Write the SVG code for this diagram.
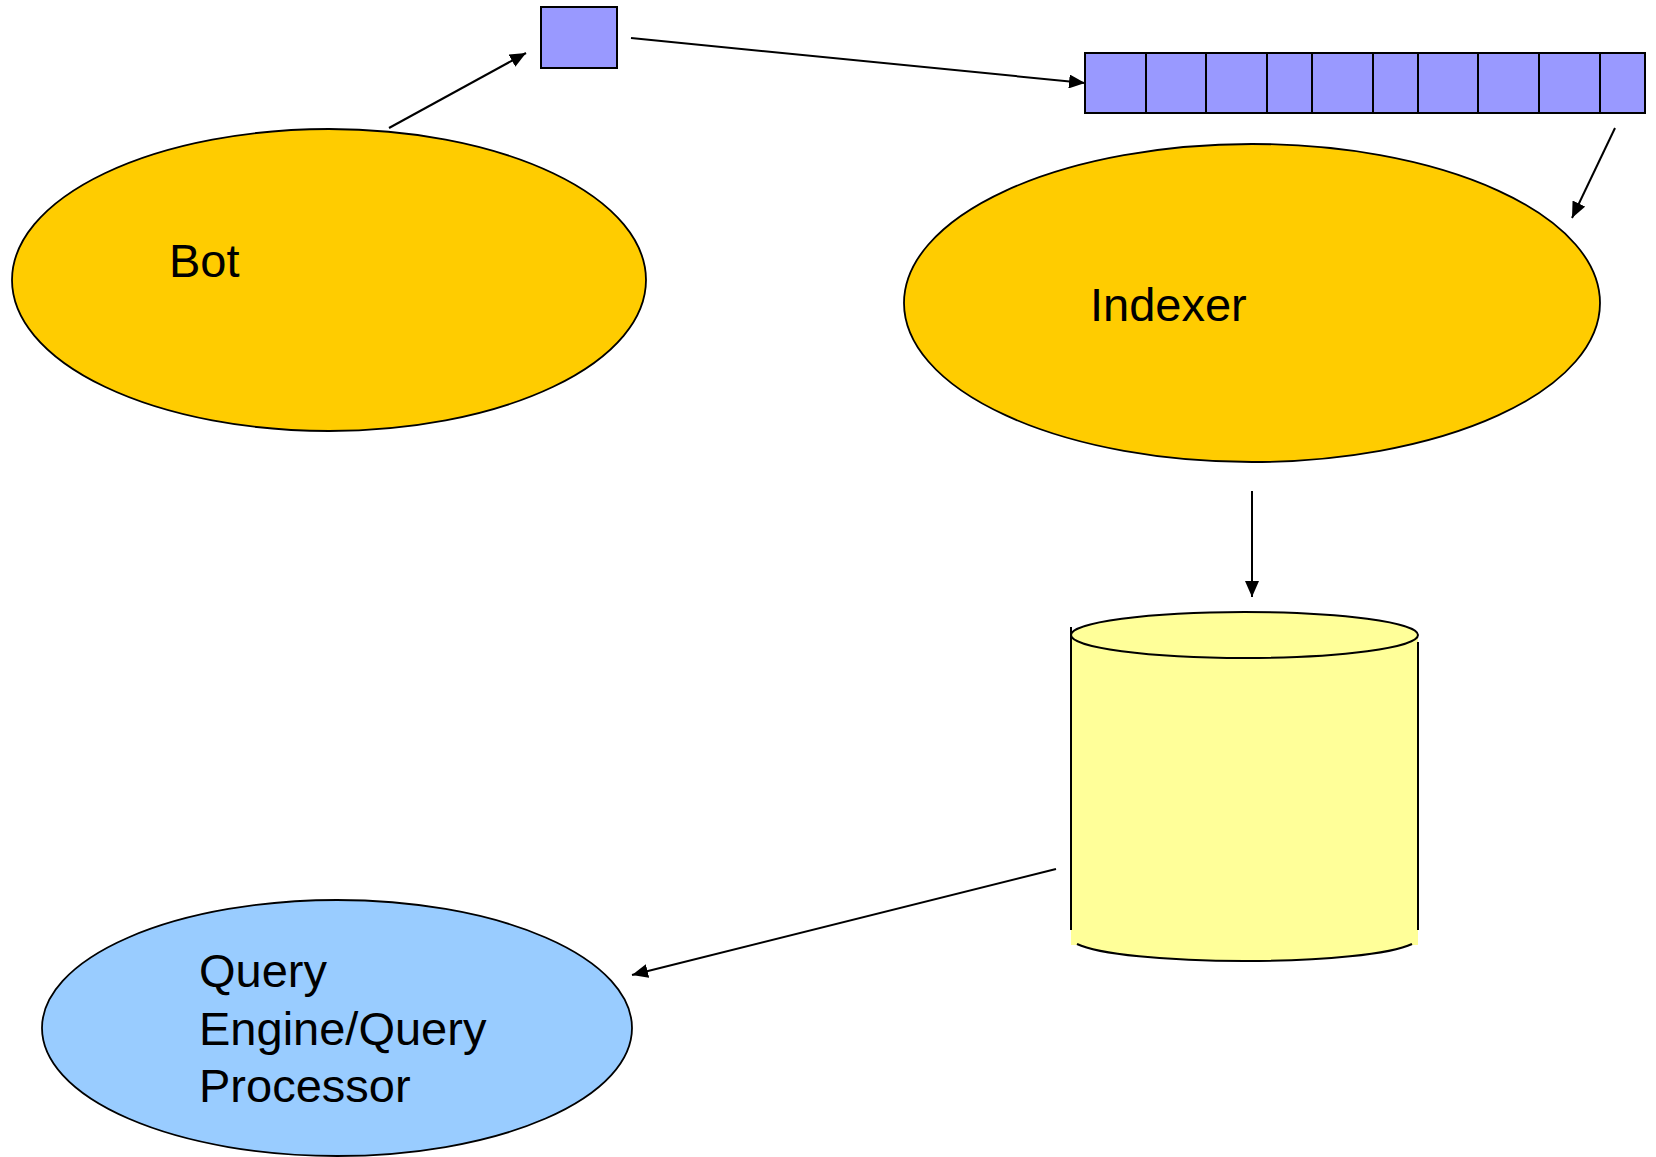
<svg xmlns="http://www.w3.org/2000/svg" width="1656" height="1157" viewBox="0 0 1656 1157">
<style>
.lbl{font-family:"Liberation Sans",Arial,sans-serif;font-size:47px;fill:#000}
.ell{stroke:#000;stroke-width:1.8}
.cell{fill:#9999FF;stroke:#000;stroke-width:2}
.conn{stroke:#000;stroke-width:2;fill:none;marker-end:url(#ah)}
</style>
<defs>
<marker id="ah" markerUnits="userSpaceOnUse" viewBox="0 0 16 14" refX="16" refY="7" markerWidth="16" markerHeight="14" orient="auto">
<path d="M0,0 L16,7 L0,14 z" fill="#000"/>
</marker>
</defs>
<rect width="1656" height="1157" fill="#fff"/>
<g id="bot">
<ellipse class="ell" cx="329" cy="280" rx="317" ry="151" fill="#FFCC00"/>
<text class="lbl" x="169" y="277">Bot</text>
</g>
<g id="indexer">
<ellipse class="ell" cx="1252" cy="303" rx="348" ry="159" fill="#FFCC00"/>
<text class="lbl" x="1090" y="321">Indexer</text>
</g>
<g id="query">
<ellipse class="ell" cx="337" cy="1028" rx="295" ry="128" fill="#99CCFF"/>
<text class="lbl" x="199" y="987">Query</text>
<text class="lbl" x="199" y="1045">Engine/Query</text>
<text class="lbl" x="199" y="1102">Processor</text>
</g>
<g id="page">
<rect class="cell" x="541" y="7" width="76" height="61"/>
</g>
<g id="queue">
<rect class="cell" x="1085" y="53" width="61" height="60"/>
<rect class="cell" x="1146" y="53" width="60" height="60"/>
<rect class="cell" x="1206" y="53" width="61" height="60"/>
<rect class="cell" x="1267" y="53" width="45" height="60"/>
<rect class="cell" x="1312" y="53" width="61" height="60"/>
<rect class="cell" x="1373" y="53" width="45" height="60"/>
<rect class="cell" x="1418" y="53" width="60" height="60"/>
<rect class="cell" x="1478" y="53" width="61" height="60"/>
<rect class="cell" x="1539" y="53" width="61" height="60"/>
<rect class="cell" x="1600" y="53" width="45" height="60"/>
</g>
<g id="database">
<rect x="1071" y="635" width="347" height="310" fill="#FFFF99"/>
<path d="M1077,944 A173.5,23 0 0 0 1412,944" fill="#FFFF99" stroke="#000" stroke-width="2"/>
<line x1="1071" y1="627" x2="1071" y2="930" stroke="#000" stroke-width="2"/>
<line x1="1418" y1="642" x2="1418" y2="930" stroke="#000" stroke-width="2"/>
<ellipse cx="1244.5" cy="635" rx="173.5" ry="23" fill="#FFFF99" stroke="#000" stroke-width="2"/>
</g>
<g id="connectors">
<line class="conn" x1="389" y1="128" x2="526" y2="53"/>
<line class="conn" x1="631" y1="38" x2="1085" y2="83"/>
<line class="conn" x1="1615" y1="128" x2="1572" y2="218"/>
<line class="conn" x1="1252" y1="491" x2="1252" y2="597"/>
<line class="conn" x1="1056" y1="869" x2="632" y2="975"/>
</g>
</svg>
